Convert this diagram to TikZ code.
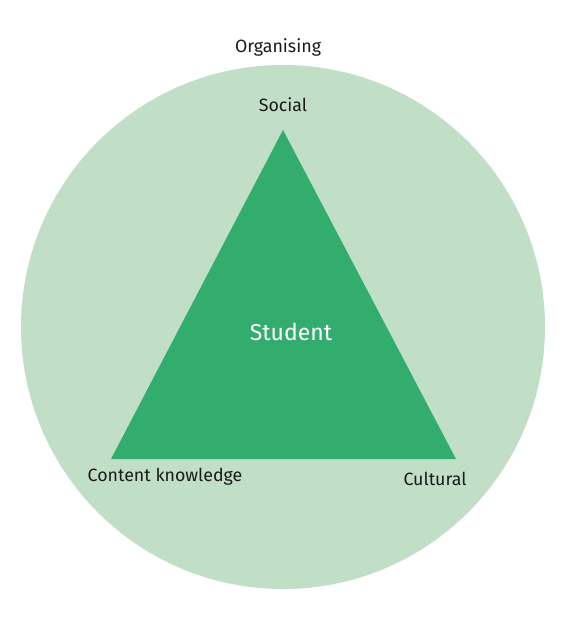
\documentclass[tikz,border=0pt]{standalone}
\usepackage{fontspec}
\setmainfont{Fira Sans}
\usetikzlibrary{positioning}
\definecolor{circlegreen}{HTML}{C1DFC6}
\definecolor{trianglegreen}{HTML}{33AD6E}
\definecolor{labeltext}{HTML}{1A1A1A}

\begin{document}
\begin{tikzpicture}[
  x=1pt, y=-1pt,
  labelstyle/.style={
        text=labeltext,
        font=\fontsize{17.8}{20}\selectfont,
        inner sep=0
  }
]

    \useasboundingbox (0,0) rectangle (560,621);

    \coordinate (C) at (283,327);
    \fill[circlegreen] (C) circle (262);

    \coordinate (T_1) at (283,130);
    \coordinate (T_2) at (111,459);
    \coordinate (T_3) at (456,459);
    \fill[trianglegreen] (T_1) -- (T_2) -- (T_3) -- cycle;

    \node[labelstyle] (organising) at (278,47) {Organising};
    \node[labelstyle] (social) at (283,105) {Social};
    \node[labelstyle] (content) at (165,477) {Content knowledge};
    \node[labelstyle] (cultural) at (435,479) {Cultural};
    \node[labelstyle, text=white, font=\fontsize{23}{27}\selectfont] (student) at (291,332) {Student};
\end{tikzpicture}
\end{document}
